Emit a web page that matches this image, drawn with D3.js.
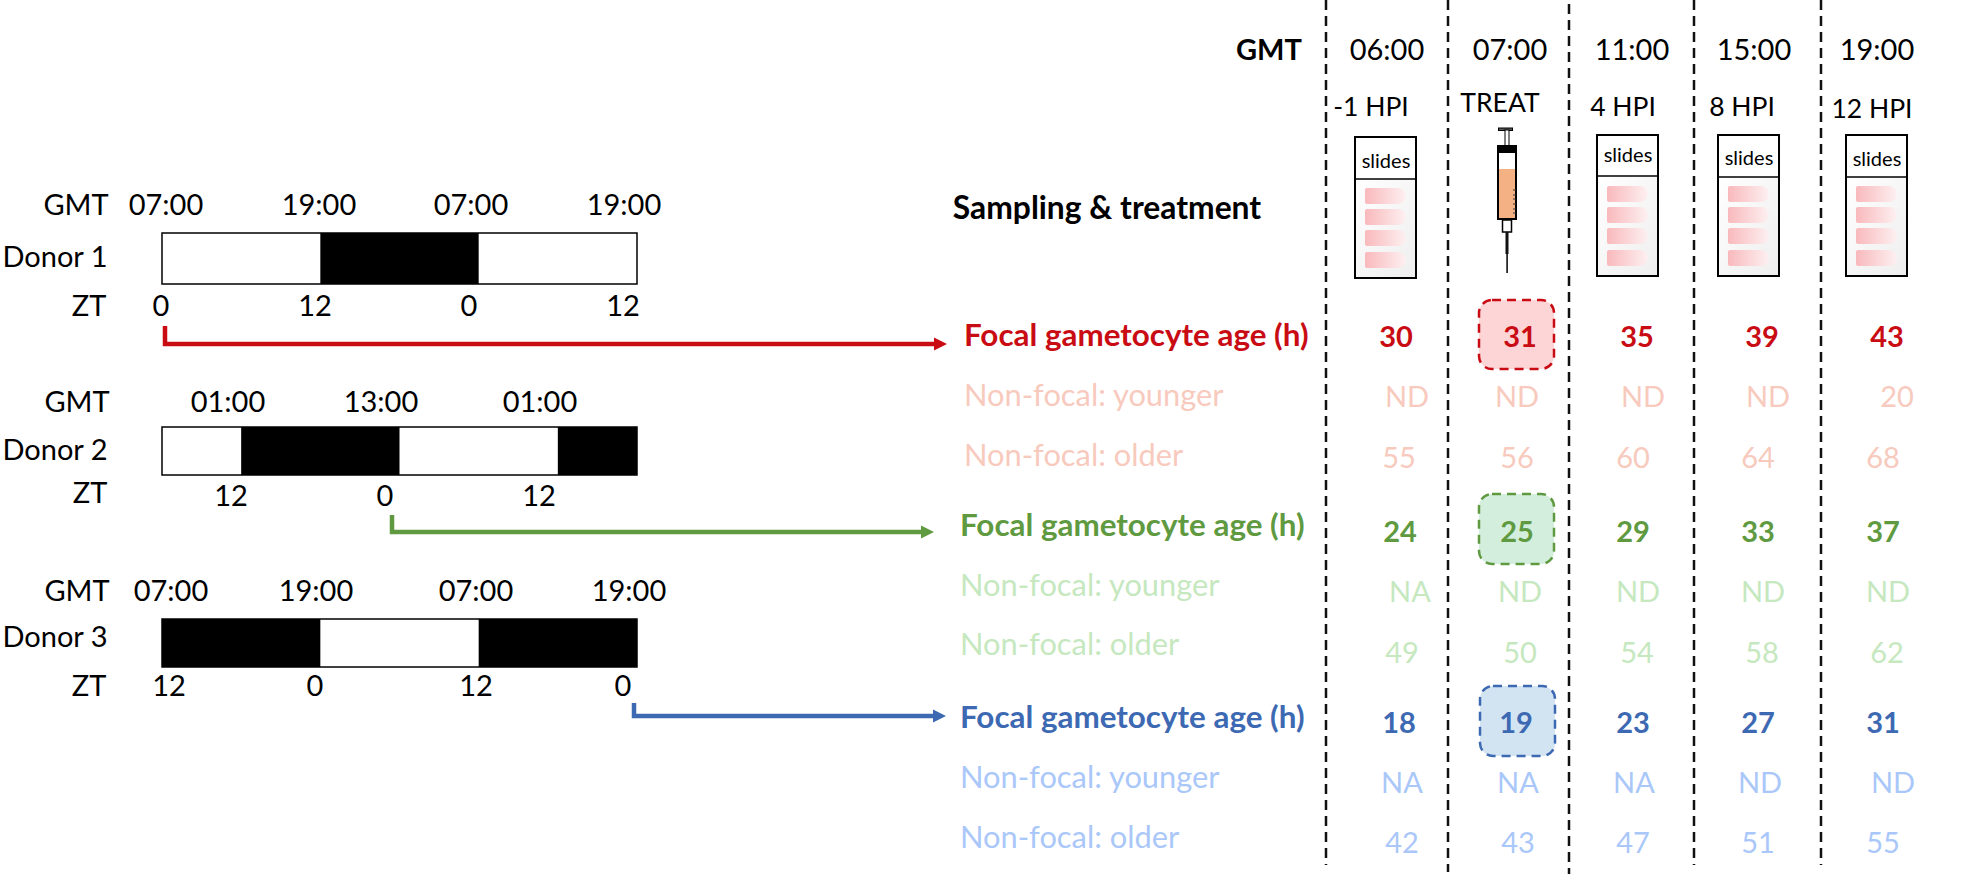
<!DOCTYPE html>
<html lang="en">
	<head>
		<meta charset="utf-8">
		<title>Sampling scheme: donors, gametocyte ages</title>
		<script type="text/javascript" src="https://cdnjs.cloudflare.com/ajax/libs/d3/7.8.5/d3.min.js"></script>
		<style type="text/css">
			body, html {
				background: #fff;
				margin: 0;
				padding: 0;
				overflow: hidden;
			}
			text {
				font-family: Lato, sans-serif;
				fill: #000;
				text-anchor: middle;
				dominant-baseline: central;
			}
			.label { font-size: 29px; }
			.hpi { font-size: 26.5px; }
			.slideText { font-size: 20px; }
			.bold { font-weight: 700; }
			.title { font-size: 31.8px; }
			.rowName { text-anchor: start; font-size: 30.8px; }
			.rowName.bold { font-size: 31.4px; }
			.cell { font-size: 29px; }
		</style>
	</head>
	<body>
		<script type="text/javascript">
			// data
			var donors = ["Donor 1", "Donor 2", "Donor 3"];
			var donorGmt = [
				["07:00", "19:00", "07:00", "19:00"],
				["01:00", "13:00", "01:00"],
				["07:00", "19:00", "07:00", "19:00"]
			];
			var donorZt = [
				["0", "12", "0", "12"],
				["12", "0", "12"],
				["12", "0", "12", "0"]
			];
			// dark periods, in hours from the left end of the 36 h bar
			var darkHours = [
				[[12, 24]],
				[[6, 18], [30, 36]],
				[[0, 12], [24, 36]]
			];
			var sampleTimes = ["06:00", "07:00", "11:00", "15:00", "19:00"];
			var sampleHpi = ["-1 HPI", "TREAT", "4 HPI", "8 HPI", "12 HPI"];
			var rowNames = ["Focal gametocyte age (h)", "Non-focal: younger", "Non-focal: older"];
			var donor1Rows = [
				["30", "31", "35", "39", "43"],
				["ND", "ND", "ND", "ND", "20"],
				["55", "56", "60", "64", "68"]
			];
			var donor2Rows = [
				["24", "25", "29", "33", "37"],
				["NA", "ND", "ND", "ND", "ND"],
				["49", "50", "54", "58", "62"]
			];
			var donor3Rows = [
				["18", "19", "23", "27", "31"],
				["NA", "NA", "NA", "ND", "ND"],
				["42", "43", "47", "51", "55"]
			];
			var allRows = [donor1Rows, donor2Rows, donor3Rows];

			// layout
			var w = 1961;
			var h = 874;
			var dark = ["#c90c14", "#5f9a41", "#3d69b3"];
			var pale = ["#f8cabd", "#c6e8bf", "#aac7f9"];
			var boxFill = ["#fdd5d6", "#d4eedd", "#d2e4f2"];

			var barTop = [233, 427, 619];
			var barBottom = [284, 475, 667];
			var gmtY = [203, 400, 589];
			var donorY = [255, 448, 635];
			var ztY = [304, 491, 684];
			var ztValueY = [304, 494, 684];
			var gmtNameX = [76, 77, 77];
			var ztNameX = [89, 90, 89];
			var gmtX = [[166, 319, 471, 624], [228, 381, 540], [171, 316, 476, 629]];
			var ztX = [[161, 315, 469, 623], [231, 385, 539], [169, 315, 476, 623]];

			var arrowX = [165, 392, 634];
			var arrowTop = [326, 515, 703];
			var arrowY = [344, 532, 716];
			var arrowEnd = [947, 934, 946];

			var nameX = [964, 960, 960];
			var nameY = [[334, 394, 454], [524, 584, 643], [716, 776, 836]];
			var cellY = [[335, 395, 456], [530, 590, 651], [721, 781, 841]];
			var cellX = [
				[[1396, 1520, 1637, 1762, 1887], [1407, 1517, 1643, 1768, 1897], [1399, 1517, 1633, 1758, 1883]],
				[[1400, 1517, 1633, 1758, 1883], [1410, 1520, 1638, 1763, 1888], [1402, 1520, 1637, 1762, 1887]],
				[[1399, 1516, 1633, 1758, 1883], [1402, 1518, 1634, 1760, 1893], [1402, 1518, 1633, 1758, 1883]]
			];
			var boxes = [
				{x0: 1479, x1: 1554, y0: 300, y1: 369},
				{x0: 1479, x1: 1554, y0: 494, y1: 564},
				{x0: 1480, x1: 1555, y0: 686, y1: 756}
			];

			var timeX = [1387, 1510, 1632, 1754, 1877];
			var hpiX = [1371, 1500, 1623, 1742, 1872];
			var hpiY = [106, 102, 106, 106, 108];
			var dividers = [
				{x: 1326, y0: 0, y1: 865},
				{x: 1448, y0: 0, y1: 872},
				{x: 1569, y0: 4, y1: 874},
				{x: 1694, y0: 0, y1: 865},
				{x: 1821, y0: 0, y1: 865}
			];
			var slideBoxes = [
				{x: 1355, top: 137, split: 179, bottom: 278, textY: 160},
				{x: 1597, top: 135, split: 176, bottom: 276, textY: 154},
				{x: 1718, top: 135, split: 177, bottom: 276, textY: 157},
				{x: 1846, top: 135, split: 177, bottom: 276, textY: 158}
			];
			var smearOffset = [51, 72, 93, 115];

			var svg = d3.select("body")
				.append("svg")
				.attr("width", w)
				.attr("height", h);

			var defs = svg.append("defs");

			var g1 = defs.append("linearGradient").attr("id", "smear");
			g1.append("stop").attr("offset", "0%").attr("stop-color", "#f9b9bc");
			g1.append("stop").attr("offset", "100%").attr("stop-color", "#fdf0f1");

			var g2 = defs.append("linearGradient").attr("id", "glass")
				.attr("x1", "0").attr("y1", "0").attr("x2", "1").attr("y2", "1");
			g2.append("stop").attr("offset", "0%").attr("stop-color", "#ffffff");
			g2.append("stop").attr("offset", "100%").attr("stop-color", "#eeeeee");

			// one hour scale for all three light/dark bars
			var hourScale = d3.scaleLinear().domain([0, 36]).range([162, 637]);

			donors.forEach(function(name, i) {
				svg.append("text").attr("class", "label")
					.attr("x", gmtNameX[i]).attr("y", gmtY[i]).text("GMT");
				svg.append("text").attr("class", "label")
					.attr("x", 55).attr("y", donorY[i]).text(name);
				svg.append("text").attr("class", "label")
					.attr("x", ztNameX[i]).attr("y", ztY[i]).text("ZT");

				svg.append("rect")
					.attr("x", hourScale(0))
					.attr("y", barTop[i])
					.attr("width", hourScale(36) - hourScale(0))
					.attr("height", barBottom[i] - barTop[i])
					.attr("fill", "#fff")
					.attr("stroke", "#000")
					.attr("stroke-width", 1.5);

				svg.selectAll(".dark" + i)
					.data(darkHours[i])
					.enter()
					.append("rect")
					.attr("class", "dark" + i)
					.attr("x", function(d) { return hourScale(d[0]); })
					.attr("y", barTop[i])
					.attr("width", function(d) { return hourScale(d[1]) - hourScale(d[0]); })
					.attr("height", barBottom[i] - barTop[i])
					.attr("fill", "#000");

				svg.selectAll(".gmt" + i)
					.data(donorGmt[i])
					.enter()
					.append("text")
					.attr("class", "label gmt" + i)
					.attr("x", function(d, j) { return gmtX[i][j]; })
					.attr("y", gmtY[i])
					.text(function(d) { return d; });

				svg.selectAll(".zt" + i)
					.data(donorZt[i])
					.enter()
					.append("text")
					.attr("class", "label zt" + i)
					.attr("x", function(d, j) { return ztX[i][j]; })
					.attr("y", ztValueY[i])
					.text(function(d) { return d; });

				// elbow arrow from the bar to its row block
				svg.append("path")
					.attr("d", "M" + arrowX[i] + "," + arrowTop[i] + "V" + arrowY[i] + "H" + (arrowEnd[i] - 12))
					.attr("fill", "none")
					.attr("stroke", dark[i])
					.attr("stroke-width", 4.5);
				svg.append("path")
					.attr("d", "M" + (arrowEnd[i] - 13) + "," + (arrowY[i] - 6.5) + "L" + arrowEnd[i] + "," + arrowY[i] + "L" + (arrowEnd[i] - 13) + "," + (arrowY[i] + 6.5) + "Z")
					.attr("fill", dark[i]);

				// treatment highlight
				var b = boxes[i];
				svg.append("rect")
					.attr("x", b.x0)
					.attr("y", b.y0)
					.attr("width", b.x1 - b.x0)
					.attr("height", b.y1 - b.y0)
					.attr("rx", 13)
					.attr("fill", boxFill[i])
					.attr("stroke", dark[i])
					.attr("stroke-width", 2.5)
					.attr("stroke-dasharray", "9,6");

				rowNames.forEach(function(rowName, r) {
					var colour = r === 0 ? dark[i] : pale[i];
					svg.append("text")
						.attr("class", r === 0 ? "rowName bold" : "rowName")
						.attr("x", nameX[i])
						.attr("y", nameY[i][r])
						.style("fill", colour)
						.text(rowName);

					svg.selectAll(".cell" + i + r)
						.data(allRows[i][r])
						.enter()
						.append("text")
						.attr("class", (r === 0 ? "cell bold " : "cell ") + "cell" + i + r)
						.attr("x", function(d, c) { return cellX[i][r][c]; })
						.attr("y", cellY[i][r])
						.style("fill", colour)
						.text(function(d) { return d; });
				});
			});

			// header
			svg.append("text").attr("class", "label bold").attr("x", 1269).attr("y", 48).text("GMT");
			svg.append("text").attr("class", "title bold").attr("x", 1107).attr("y", 207).text("Sampling & treatment");

			svg.selectAll(".time")
				.data(sampleTimes)
				.enter()
				.append("text")
				.attr("class", "label time")
				.attr("x", function(d, i) { return timeX[i]; })
				.attr("y", 48)
				.text(function(d) { return d; });

			svg.selectAll(".hpi")
				.data(sampleHpi)
				.enter()
				.append("text")
				.attr("class", "hpi")
				.attr("x", function(d, i) { return hpiX[i]; })
				.attr("y", function(d, i) { return hpiY[i]; })
				.text(function(d) { return d; });

			svg.selectAll(".divider")
				.data(dividers)
				.enter()
				.append("line")
				.attr("class", "divider")
				.attr("x1", function(d) { return d.x; })
				.attr("x2", function(d) { return d.x; })
				.attr("y1", function(d) { return d.y0; })
				.attr("y2", function(d) { return d.y1; })
				.attr("stroke", "#111")
				.attr("stroke-width", 2.5)
				.attr("stroke-dasharray", "10,6");

			// microscope slides
			slideBoxes.forEach(function(s) {
				svg.append("rect")
					.attr("x", s.x).attr("y", s.split)
					.attr("width", 61).attr("height", s.bottom - s.split)
					.attr("fill", "url(#glass)");
				svg.append("rect")
					.attr("x", s.x).attr("y", s.top)
					.attr("width", 61).attr("height", s.bottom - s.top)
					.attr("fill", "none")
					.attr("stroke", "#000")
					.attr("stroke-width", 2);
				svg.append("line")
					.attr("x1", s.x).attr("x2", s.x + 61)
					.attr("y1", s.split).attr("y2", s.split)
					.attr("stroke", "#000")
					.attr("stroke-width", 1.5);
				svg.append("text").attr("class", "slideText")
					.attr("x", s.x + 31).attr("y", s.textY).text("slides");
				smearOffset.forEach(function(off) {
					var x = s.x + 10, y = s.top + off;
					svg.append("path")
						.attr("d", "M" + (x + 2) + "," + y + "H" + (x + 33) + "a8,8 0 0 1 0,16H" + (x + 2) + "a2,2 0 0 1 -2,-2V" + (y + 2) + "a2,2 0 0 1 2,-2Z")
						.attr("fill", "url(#smear)");
				});
			});

			// syringe
			var syringe = svg.append("g");
			syringe.append("rect").attr("x", 1498.5).attr("y", 128).attr("width", 14).attr("height", 2.5).attr("fill", "#555").attr("stroke", "#000");
			syringe.append("rect").attr("x", 1505).attr("y", 130).attr("width", 4).attr("height", 17).attr("fill", "#fff").attr("stroke", "#000").attr("stroke-width", 1);
			syringe.append("rect").attr("x", 1498).attr("y", 169).attr("width", 18).attr("height", 50).attr("fill", "#f4b183");
			syringe.append("rect").attr("x", 1498).attr("y", 146).attr("width", 18).attr("height", 73).attr("fill", "none").attr("stroke", "#000").attr("stroke-width", 2);
			syringe.append("rect").attr("x", 1497).attr("y", 146).attr("width", 20).attr("height", 7).attr("fill", "#000");
			syringe.append("rect").attr("x", 1502.5).attr("y", 220).attr("width", 9).attr("height", 12).attr("fill", "#fff").attr("stroke", "#000").attr("stroke-width", 1.5);
			syringe.append("rect").attr("x", 1505.5).attr("y", 232).attr("width", 3).attr("height", 22).attr("fill", "#111");
			syringe.append("rect").attr("x", 1506.3).attr("y", 254).attr("width", 1.6).attr("height", 19).attr("fill", "#111");
			[190, 195, 199, 204, 209, 213].forEach(function(y) {
				syringe.append("line").attr("x1", 1513).attr("x2", 1516).attr("y1", y).attr("y2", y).attr("stroke", "#333").attr("stroke-width", 1);
			});
		</script>
	</body>
</html>
